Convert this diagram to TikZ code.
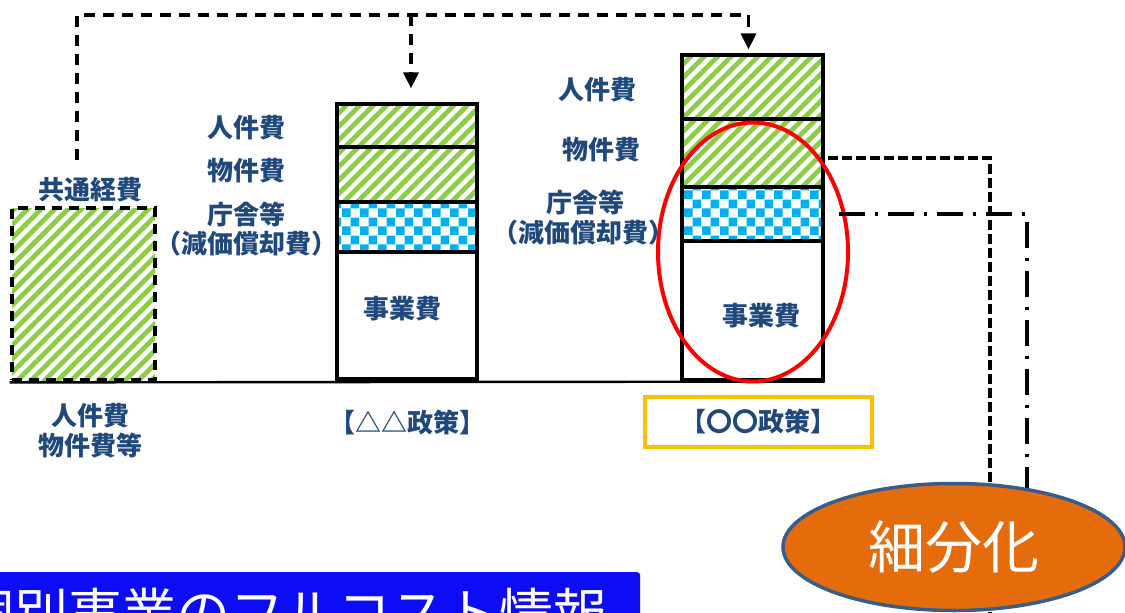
\documentclass[tikz,border=0pt]{standalone}
\usepackage{fontspec}
\setmainfont{Noto Sans CJK JP}
\usetikzlibrary{patterns,patterns.meta,shapes.geometric,arrows.meta}
\definecolor{lbl}{RGB}{31,73,125}
\definecolor{hatchgreen}{RGB}{140,205,70}
\definecolor{checkblue}{RGB}{0,176,240}
\definecolor{policyyellow}{RGB}{255,192,0}
\definecolor{ovalorange}{RGB}{228,108,10}
\definecolor{ovalblue}{RGB}{56,93,138}
\definecolor{bannerblue}{RGB}{12,12,245}
\pgfdeclarepatternformonly{checker}{\pgfpointorigin}{\pgfqpoint{18pt}{18pt}}{\pgfqpoint{18pt}{18pt}}{%
  \pgfpathrectangle{\pgfpointorigin}{\pgfqpoint{9pt}{9pt}}%
  \pgfpathrectangle{\pgfqpoint{9pt}{9pt}}{\pgfqpoint{9pt}{9pt}}%
  \pgfusepath{fill}}
\tikzset{
  seg/.style={draw, line width=3.2pt, rectangle, inner sep=0pt},
  hatchfill/.style={pattern={Lines[angle=45,distance=9.5pt,line width=4.8pt]}, pattern color=hatchgreen},
  checkfill/.style={pattern=checker, pattern color=checkblue},
  lab/.style={text=lbl, font=\bfseries\fontsize{26}{29}\selectfont, inner sep=0pt},
  dconn/.style={line width=3.2pt, dash pattern=on 11pt off 8pt},
  dconnr/.style={line width=3.2pt, dash pattern=on 10pt off 4pt},
  ddconn/.style={line width=3.2pt, dash pattern=on 26pt off 10pt on 3pt off 10pt},
  tip/.style={-{Triangle[length=16pt,width=15pt]}}
}
\begin{document}
\begin{tikzpicture}[x=1pt,y=-1pt]
\useasboundingbox (0,0) rectangle (1125,613);
\clip (0,0) rectangle (1125,613);
\fill[white] (0,0) rectangle (1125,613);

% common cost box
\node[seg, dash pattern=on 10pt off 7pt, hatchfill, minimum width=143pt, minimum height=172pt] (cbox) at (83.5,294) {};
\node[lab] (lcommon) at (90,190) {共通経費};
\node[lab, align=center] (lcommonb) at (90,431) {人件費\\[1pt]物件費等};

% bar 1
\node[seg, hatchfill, minimum width=140pt, minimum height=43pt] (b1p) at (407,125.5) {};
\node[seg, hatchfill, minimum width=140pt, minimum height=55pt] (b1m) at (407,174.5) {};
\node[seg, checkfill, minimum width=140pt, minimum height=50pt] (b1c) at (407,227) {};
\node[seg, minimum width=140pt, minimum height=127pt] (b1j) at (407,315.5) {};
\node[lab] (l1p) at (246,128) {人件費};
\node[lab] (l1m) at (246,171) {物件費};
\node[lab] (l1c) at (246,215) {庁舎等};
\node[lab] (l1d) at (246,244) {（減価償却費）};
\node[lab] (l1j) at (402,309) {事業費};
\node[lab] (pol1) at (407,423) {【△△政策】};

% bar 2
\node[seg, hatchfill, minimum width=141pt, minimum height=64pt] (b2p) at (752.5,87) {};
\node[seg, hatchfill, minimum width=141pt, minimum height=68pt] (b2m) at (752.5,153) {};
\node[seg, checkfill, minimum width=141pt, minimum height=54pt] (b2c) at (752.5,214) {};
\node[seg, minimum width=141pt, minimum height=139pt] (b2j) at (752.5,310.5) {};
\node[lab] (l2p) at (597,90) {人件費};
\node[lab] (l2m) at (601,150) {物件費};
\node[lab] (l2c) at (585,203) {庁舎等};
\node[lab] (l2d) at (583,233) {（減価償却費）};
\node[lab] (l2j) at (761,316) {事業費};
\node[lab, draw=policyyellow, line width=4.5pt, minimum width=227pt, minimum height=50pt] (pol2) at (758.5,422) {【〇〇政策】};

% baseline
\draw[line width=2.4pt] (cbox.south west) -- (b2j.south east);

% top dashed allocation connectors
\coordinate (cstart) at (77,160);
\coordinate (corner) at (77,15);
\coordinate (split) at (411,15);
\draw[dconn] (cstart) -- (corner) -| ([xshift=-4pt]b2p.north);
\draw[dconn, tip] ([xshift=-4pt]b2p.north |- corner) -- ([xshift=-4pt,yshift=4pt]b2p.north);
\draw[dconn, tip] (split) -- ([xshift=4pt,yshift=14pt]b1p.north);

% red focus ellipse
\node[ellipse, draw=red, line width=4pt, minimum width=190pt, minimum height=259pt, inner sep=0pt] (focus) at (753,252) {};

% right connectors
\coordinate (d1) at (990,613);
\coordinate (d2) at (1027,613);
\draw[dconnr] ([xshift=3pt,yshift=-5pt]b2m.east) -| (d1);
\draw[ddconn] ([xshift=14pt]b2c.east) -| (d2);

% orange oval
\node[ellipse, fill=ovalorange, draw=ovalblue, line width=3.5pt, minimum width=342pt, minimum height=127pt, inner sep=0pt, text=white, font=\fontsize{57}{60}\selectfont] (sai) at (954,547) {細分化};

% bottom banner
\node[fill=bannerblue, rounded corners=3pt, minimum width=646pt, minimum height=100pt, anchor=north west, inner sep=0pt] (banner) at (-6,572) {};
\node[text=white, font=\fontsize{54}{58}\selectfont, inner sep=0pt] (bannertext) at (284,613) {個別事業のフルコスト情報};
\end{tikzpicture}
\end{document}
